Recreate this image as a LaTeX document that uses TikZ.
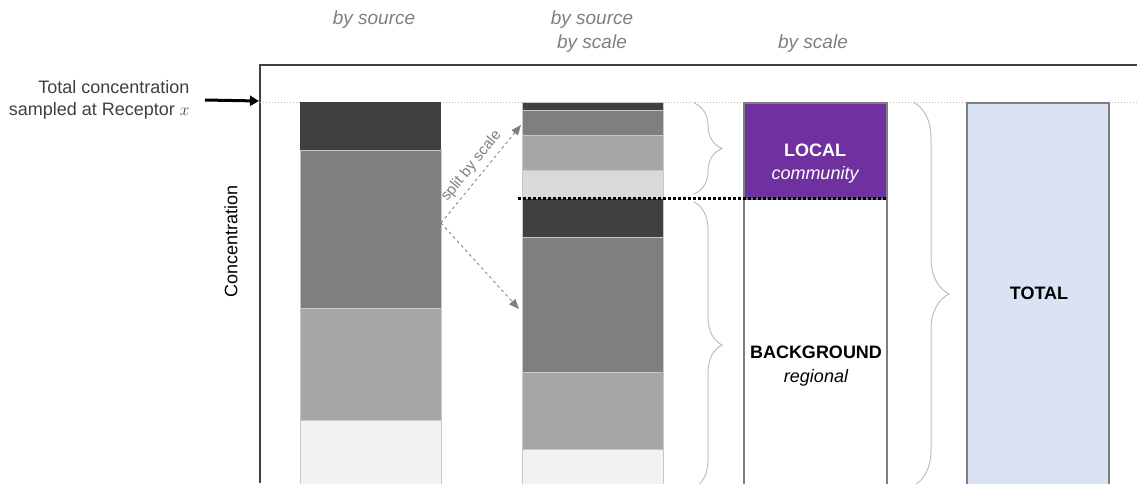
\documentclass[tikz,border=0pt]{standalone}
\usepackage{fontspec}
\setmainfont{Liberation Sans}
\usetikzlibrary{decorations.pathreplacing,arrows.meta,calc}
\definecolor{cdk}{HTML}{404040}
\definecolor{cmd}{HTML}{7F7F7F}
\definecolor{clt}{HTML}{A6A6A6}
\definecolor{cvl}{HTML}{D9D9D9}
\definecolor{cwh}{HTML}{F2F2F2}
\definecolor{cpur}{HTML}{7030A0}
\definecolor{cblue}{HTML}{DAE3F3}
\definecolor{cedge}{HTML}{C8C8C8}
\definecolor{cbrace}{HTML}{BFBFBF}
\definecolor{ctxt}{HTML}{404040}
\begin{document}
\begin{tikzpicture}[x=1pt,y=-1pt,
  seg/.style={draw=cedge,line width=0.8pt},
  barbox/.style={draw=cmd,line width=1.5pt},
  hdr/.style={text=cmd,font=\fontsize{19}{23}\selectfont\itshape,align=center},
  lbl/.style={font=\fontsize{18}{22}\selectfont},
  brc/.style={draw=cbrace,line width=1pt,decorate},
  splitarrow/.style={draw=cmd,dashed,line width=0.8pt,-{Triangle[length=10pt,width=8pt]}}
]
\useasboundingbox (0,0) rectangle (1137,483);
\clip (0,0) rectangle (1137,483);
% frame
\draw[cdk,line width=2pt] (260,483) -- (260,65) -- (1140,65);
\draw[cbrace,dotted,line width=1pt] (260,102) -- (1137,102);
% headers
\node[hdr] (h1) at (374,20) {by source};
\node[hdr] (h2) at (592,20) {by source};
\node[hdr] (h3) at (592,44) {by scale};
\node[hdr] (h4) at (813,44) {by scale};
% left labels
\node[lbl,text=ctxt,align=right,anchor=east] (tot) at (193,100) {Total concentration\\sampled at Receptor $x$};
\coordinate (rec) at (259,101);
\draw[black,line width=3pt,-{Triangle[length=9pt,width=10pt]}] (tot.east) ++(12,0) coordinate (a0) (a0) -- (rec);
\node[lbl,rotate=90] (conc) at (231,241) {Concentration};
% bar 1
\fill[cdk] (300,102) rectangle (441,150);
\draw[seg,fill=cmd] (300,150) rectangle (441,308);
\draw[seg,fill=clt] (300,308) rectangle (441,420);
\draw[seg,fill=cwh] (300,420) rectangle (441,490);
% bar 2
\draw[seg,fill=cdk] (522,102) rectangle (663,110);
\draw[seg,fill=cmd] (522,110) rectangle (663,135);
\draw[seg,fill=clt] (522,135) rectangle (663,170);
\draw[seg,fill=cvl] (522,170) rectangle (663,198);
\draw[seg,fill=cdk] (522,198) rectangle (663,237);
\draw[seg,fill=cmd] (522,237) rectangle (663,372);
\draw[seg,fill=clt] (522,372) rectangle (663,449);
\draw[seg,fill=cwh] (522,449) rectangle (663,490);
% split arrows
\coordinate (sp) at (441,223);
\coordinate (up) at (521,125);
\coordinate (dn) at (519,309);
\draw[splitarrow] (sp) -- node[sloped,above=4pt,inner sep=1pt,text=cmd,font=\fontsize{15}{17}\selectfont] (splt) {split by scale} (up);
\draw[splitarrow] (sp) -- (dn);
% bar 3
\node[barbox,fill=cpur,minimum width=143pt,minimum height=96pt,inner sep=0pt,anchor=north west] (loc) at (743,102) {};
\node[barbox,fill=white,minimum width=143pt,minimum height=300pt,inner sep=0pt,anchor=north west] (bg) at (743,198) {};
\node[lbl,text=white,font=\fontsize{18}{22}\selectfont\bfseries] (loct) at (815,150) {LOCAL};
\node[lbl,text=white,font=\fontsize{18}{22}\selectfont\itshape] (locc) at (815,175) {community};
\node[lbl,font=\fontsize{18}{22}\selectfont\bfseries] (bgt) at (816,352) {BACKGROUND};
\node[lbl,font=\fontsize{18}{22}\selectfont\itshape] (bgr) at (816,378) {regional};
\draw[black,dotted,line width=3pt] (518,198) -- (887,198);
% bar 4
\node[barbox,fill=cblue,minimum width=142pt,minimum height=400pt,inner sep=0pt,anchor=north west] (totb) at (966,102) {};
\node[lbl,font=\fontsize{18}{22}\selectfont\bfseries] (tott) at (1039,293) {TOTAL};
% braces
\draw[brc,decoration={brace,amplitude=28pt,aspect=0.5}] (694,103) -- (694,194);
\draw[brc,decoration={brace,amplitude=28pt,aspect=0.5}] (694,202) -- (694,488);
\draw[brc,decoration={brace,amplitude=36pt,aspect=0.5}] (913,102) -- (913,486);
\end{tikzpicture}
\end{document}
